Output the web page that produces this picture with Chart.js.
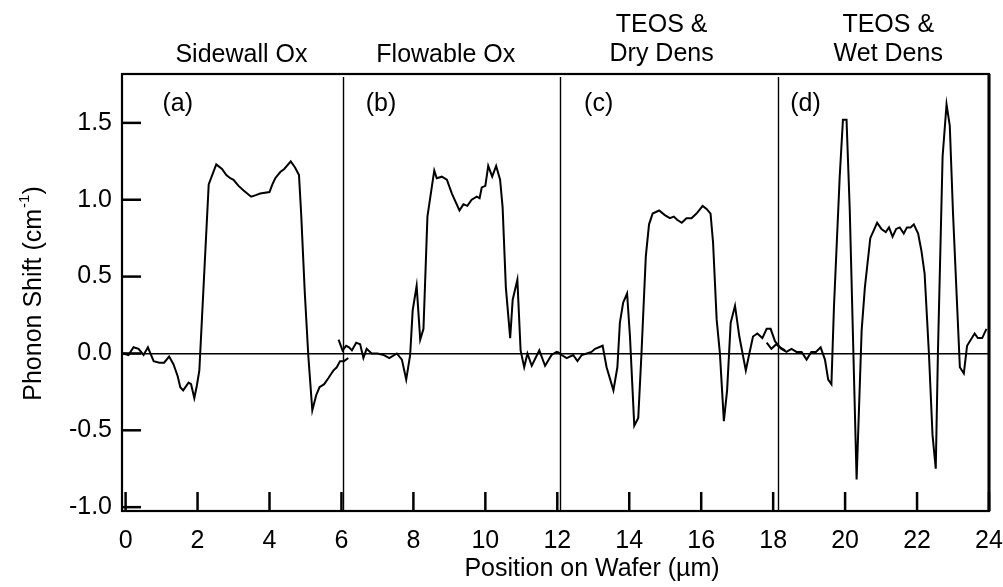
<!DOCTYPE html>
<html>
<head>
<meta charset="utf-8">
<script src="https://cdn.jsdelivr.net/npm/chart.js@4.4.1/dist/chart.umd.min.js"></script>
<style>
    html, body { margin: 0; padding: 0; background: #fff; }
    #wrap { width: 1003px; height: 587px; }
</style>
</head>
<body>
<div id="wrap"><canvas id="myChart" width="1003" height="587"></canvas></div>
<script>
// position on wafer (um) and phonon shift (cm-1), one trace per sample
var posA = [-0.07, 0.08, 0.22, 0.36, 0.50, 0.62, 0.78, 0.94, 1.07, 1.21, 1.33, 1.45, 1.52, 1.60, 1.75, 1.82, 1.91, 1.98, 2.05,
    2.31, 2.52, 2.68, 2.80, 2.91, 3.00, 3.14, 3.28, 3.49, 3.62, 3.74, 4.00, 4.08, 4.16, 4.30, 4.41, 4.59, 4.71, 4.82, 4.88,
    4.98, 5.08, 5.19, 5.30, 5.39, 5.52, 5.64, 5.72, 5.78, 5.87, 5.96, 6.07, 6.19];
var shiftA = [0.00, -0.01, 0.04, 0.03, -0.01, 0.04, -0.05, -0.06, -0.06, -0.02, -0.07, -0.15, -0.22, -0.24, -0.19, -0.20, -0.29, -0.21, -0.11,
    1.10, 1.23, 1.20, 1.16, 1.14, 1.13, 1.09, 1.06, 1.02, 1.03, 1.04, 1.05, 1.10, 1.14, 1.18, 1.20, 1.25, 1.21, 1.16, 0.91,
    0.40, -0.02, -0.37, -0.27, -0.22, -0.20, -0.16, -0.13, -0.11, -0.09, -0.05, -0.05, -0.03];

var posB = [5.92, 6.03, 6.13, 6.21, 6.29, 6.41, 6.52, 6.61, 6.70, 6.84, 7.00, 7.17, 7.33, 7.54, 7.68, 7.80, 7.91, 7.98, 8.09, 8.19,
    8.28, 8.39, 8.51, 8.58, 8.65, 8.79, 8.93, 9.07, 9.28, 9.39, 9.50, 9.62, 9.76, 9.84, 9.90, 10.00, 10.08, 10.19, 10.30, 10.41,
    10.48, 10.57, 10.69, 10.76, 10.89, 10.98, 11.08, 11.17, 11.29, 11.50, 11.66, 11.84, 11.98, 12.07];
var shiftB = [0.09, 0.02, 0.05, 0.04, 0.02, 0.07, 0.06, -0.03, 0.03, 0.00, 0.00, -0.01, -0.03, 0.00, -0.04, -0.17, -0.01, 0.28, 0.44, 0.09,
    0.16, 0.89, 1.08, 1.19, 1.14, 1.15, 1.13, 1.04, 0.93, 0.97, 0.96, 1.00, 1.02, 1.01, 1.08, 1.09, 1.22, 1.15, 1.22, 1.13,
    0.95, 0.43, 0.10, 0.35, 0.48, 0.02, -0.09, 0.00, -0.08, 0.02, -0.08, -0.01, 0.01, 0.00];

var posC = [12.00, 12.12, 12.26, 12.44, 12.56, 12.68, 12.82, 12.95, 13.05, 13.26, 13.37, 13.56, 13.67, 13.74, 13.83, 13.94, 14.02, 14.14,
    14.25, 14.34, 14.46, 14.55, 14.65, 14.83, 14.99, 15.13, 15.24, 15.33, 15.46, 15.59, 15.73, 15.87, 16.04, 16.15, 16.26, 16.33,
    16.43, 16.52, 16.63, 16.72, 16.82, 16.94, 17.06, 17.24, 17.33, 17.44, 17.56, 17.70, 17.82, 17.93, 18.05, 18.19, 18.33];
var shiftC = [0.01, -0.01, -0.03, -0.01, -0.05, -0.01, 0.00, 0.01, 0.03, 0.05, -0.09, -0.24, -0.09, 0.20, 0.33, 0.39, 0.11, -0.47,
    -0.42, 0.00, 0.63, 0.84, 0.91, 0.93, 0.90, 0.88, 0.89, 0.87, 0.85, 0.88, 0.88, 0.91, 0.96, 0.94, 0.91, 0.72,
    0.22, 0.00, -0.44, -0.24, 0.20, 0.31, 0.11, -0.11, -0.01, 0.11, 0.13, 0.10, 0.16, 0.16, 0.08, 0.04, 0.02];

var posD = [17.82, 17.95, 18.09, 18.23, 18.37, 18.51, 18.65, 18.79, 18.93, 19.06, 19.19, 19.32, 19.44, 19.53, 19.62, 19.69, 19.85, 19.94,
    20.04, 20.13, 20.32, 20.46, 20.55, 20.70, 20.89, 21.01, 21.13, 21.22, 21.32, 21.42, 21.52, 21.63, 21.72, 21.82, 21.91, 22.03,
    22.12, 22.21, 22.33, 22.43, 22.52, 22.58, 22.71, 22.82, 22.91, 23.00, 23.19, 23.30, 23.39, 23.60, 23.69, 23.81, 23.93];
var shiftD = [0.07, 0.03, 0.06, 0.03, 0.01, 0.03, 0.01, 0.01, -0.04, 0.01, 0.01, 0.04, -0.04, -0.17, -0.20, 0.30, 1.15, 1.52,
    1.52, 0.93, -0.82, 0.15, 0.43, 0.75, 0.85, 0.81, 0.79, 0.82, 0.76, 0.81, 0.82, 0.78, 0.82, 0.82, 0.84, 0.78,
    0.67, 0.52, 0.00, -0.53, -0.75, 0.00, 1.28, 1.62, 1.48, 0.91, -0.09, -0.13, 0.05, 0.13, 0.10, 0.10, 0.16];

// panel boundaries and annotations
var dividers = [6.03, 12.08, 18.14];
var panelLetters = ['(a)', '(b)', '(c)', '(d)'];
var letterPos = [1.45, 7.1, 13.15, 18.9];
var sampleNames = [['Sidewall Ox'], ['Flowable Ox'], ['TEOS &', 'Dry Dens'], ['TEOS &', 'Wet Dens']];
var namePos = [3.22, 8.9, 14.9, 21.2];

var FONT = '"Liberation Sans", Arial, Helvetica, sans-serif';

function toPoints(xs, ys) {
    var pts = [];
    for (var i = 0; i < xs.length; i++) {
        pts.push({ x: xs[i], y: ys[i] });
    }
    return pts;
}

function onStep(v, step) {
    return Math.abs(v / step - Math.round(v / step)) < 1e-6;
}

var decorations = {
    id: 'decorations',
    beforeDatasetsDraw: function (chart) {
        var ctx = chart.ctx, a = chart.chartArea, xs = chart.scales.x;
        ctx.save();
        ctx.strokeStyle = '#000';
        ctx.lineWidth = 1.4;
        dividers.forEach(function (d) {
            var px = Math.round(xs.getPixelForValue(d)) + 0.5;
            ctx.beginPath();
            ctx.moveTo(px, a.top + 3);
            ctx.lineTo(px, a.bottom);
            ctx.stroke();
        });
        ctx.restore();
    },
    afterDraw: function (chart) {
        var ctx = chart.ctx, a = chart.chartArea, xs = chart.scales.x, ys = chart.scales.y;
        ctx.save();
        ctx.strokeStyle = '#000';
        ctx.fillStyle = '#000';

        // frame
        ctx.lineWidth = 2.2;
        ctx.strokeRect(a.left, a.top, a.right - a.left, a.bottom - a.top);
        ctx.lineWidth = 3;
        ctx.beginPath();
        ctx.moveTo(a.right, a.top);
        ctx.lineTo(a.right, a.bottom);
        ctx.stroke();

        // inward tick marks
        ctx.lineWidth = 2.5;
        xs.ticks.forEach(function (t) {
            var px = xs.getPixelForValue(t.value);
            ctx.beginPath();
            ctx.moveTo(px, a.bottom);
            ctx.lineTo(px, a.bottom - 19);
            ctx.stroke();
        });
        ys.ticks.forEach(function (t) {
            var py = ys.getPixelForValue(t.value);
            ctx.beginPath();
            ctx.moveTo(a.left, py);
            ctx.lineTo(a.left + 19, py);
            ctx.stroke();
        });

        // panel letters
        ctx.font = '25px ' + FONT;
        ctx.textAlign = 'center';
        ctx.textBaseline = 'middle';
        panelLetters.forEach(function (s, i) {
            ctx.fillText(s, xs.getPixelForValue(letterPos[i]), 104);
        });

        // sample names above the frame
        sampleNames.forEach(function (lines, i) {
            var px = xs.getPixelForValue(namePos[i]);
            if (lines.length == 1) {
                ctx.fillText(lines[0], px, 55);
            } else {
                ctx.fillText(lines[0], px, 25);
                ctx.fillText(lines[1], px, 54);
            }
        });

        // x axis title
        ctx.fillText('Position on Wafer (\u00b5m)', 592, 569);

        // y axis title with superscript
        var main = 'Phonon Shift (cm', sup = '-1', tail = ')';
        ctx.font = '25px ' + FONT;
        var w1 = ctx.measureText(main).width, w3 = ctx.measureText(tail).width;
        ctx.font = '15px ' + FONT;
        var w2 = ctx.measureText(sup).width;
        var total = w1 + w2 + w3;
        ctx.translate(41, 294);
        ctx.rotate(-Math.PI / 2);
        ctx.textAlign = 'left';
        ctx.textBaseline = 'alphabetic';
        ctx.font = '25px ' + FONT;
        ctx.fillText(main, -total / 2, 0);
        ctx.font = '15px ' + FONT;
        ctx.fillText(sup, -total / 2 + w1 + 1, -12);
        ctx.font = '25px ' + FONT;
        ctx.fillText(tail, -total / 2 + w1 + w2 + 1, 0);
        ctx.restore();
    }
};

Chart.defaults.font.family = FONT;
Chart.defaults.font.size = 25;
Chart.defaults.color = '#000';

function traceSet(xs, ys) {
    return {
        data: toPoints(xs, ys),
        borderColor: '#000',
        borderWidth: 2,
        pointRadius: 0,
        tension: 0,
        fill: false
    };
}

var ctx = document.getElementById('myChart').getContext('2d');
var myChart = new Chart(ctx, {
    type: 'line',
    data: {
        datasets: [
            traceSet(posA, shiftA),
            traceSet(posB, shiftB),
            traceSet(posC, shiftC),
            traceSet(posD, shiftD)
        ]
    },
    options: {
        responsive: false,
        animation: false,
        devicePixelRatio: 1,
        layout: { padding: { top: 74, right: 14, left: 0, bottom: 0 } },
        plugins: {
            legend: { display: false },
            tooltip: { enabled: false }
        },
        scales: {
            x: {
                type: 'linear',
                min: -0.1,
                max: 24,
                afterFit: function (s) {
                    s.height = 76;
                    s.paddingLeft = 0;
                    s.paddingRight = 0;
                },
                afterBuildTicks: function (s) {
                    s.ticks = s.ticks.filter(function (t) { return onStep(t.value, 2); });
                },
                ticks: {
                    stepSize: 2,
                    includeBounds: false,
                    padding: 15,
                    maxRotation: 0,
                    autoSkip: false,
                    callback: function (v) { return Math.round(v).toString(); }
                },
                grid: { display: false, drawTicks: false },
                border: { display: false }
            },
            y: {
                type: 'linear',
                min: -1.025,
                max: 1.818,
                afterFit: function (s) {
                    s.width = 122;
                    s.paddingTop = 0;
                    s.paddingBottom = 0;
                },
                afterBuildTicks: function (s) {
                    s.ticks = s.ticks.filter(function (t) { return onStep(t.value, 0.5); });
                },
                ticks: {
                    stepSize: 0.5,
                    includeBounds: false,
                    padding: 10,
                    autoSkip: false,
                    callback: function (v) {
                        if (Math.abs(v) < 1e-9) v = 0;
                        return v.toFixed(1);
                    }
                },
                grid: {
                    drawTicks: false,
                    lineWidth: 1.5,
                    color: function (c) {
                        return (c.tick && Math.abs(c.tick.value) < 1e-9) ? '#000' : 'rgba(0,0,0,0)';
                    }
                },
                border: { display: false }
            }
        }
    },
    plugins: [decorations]
});
</script>
</body>
</html>
